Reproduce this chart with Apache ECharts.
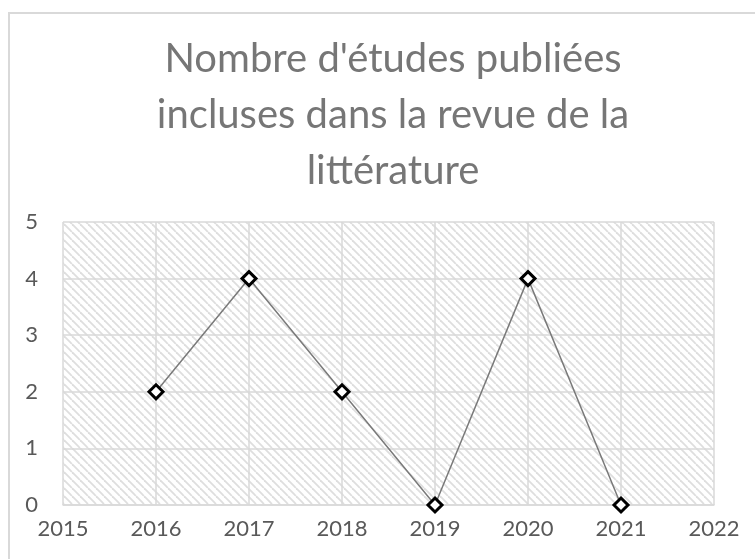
<!DOCTYPE html>
<html><head><meta charset="utf-8">
<script src="https://cdn.jsdelivr.net/npm/echarts@6/dist/echarts.min.js"></script>
<style>html,body{margin:0;padding:0;background:#fff}#c{width:755px;height:559px}</style>
</head><body><div id="c"></div>
<script>
const titleText = "Nombre d'études publiées\nincluses dans la revue de la\nlittérature";
const years = [2016, 2017, 2018, 2019, 2020, 2021];
const studies = [2, 4, 2, 0, 4, 0];
const xTicks = [2015, 2016, 2017, 2018, 2019, 2020, 2021, 2022];
const yTicks = [0, 1, 2, 3, 4, 5];

const tile = document.createElement('canvas');
tile.width = 8; tile.height = 8;
const g = tile.getContext('2d');
g.fillStyle = '#ffffff'; g.fillRect(0, 0, 8, 8);
g.strokeStyle = '#dedede'; g.lineWidth = 1.8;
[-8, 0, 8].forEach(ox => {
  g.beginPath(); g.moveTo(ox, 0); g.lineTo(ox + 8, 8); g.stroke();
});

const chart = echarts.init(document.getElementById('c'), null, {renderer: 'canvas'});
chart.setOption({
  backgroundColor: '#ffffff',
  animation: false,
  title: {
    text: titleText, left: 388, top: 26, textAlign: 'center',
    textStyle: {fontFamily: 'Lato', fontSize: 40, fontWeight: 'normal', color: '#767676', lineHeight: 56, align: 'center'}
  },
  graphic: [{
    type: 'rect', shape: {x: 9, y: 13, width: 800, height: 600},
    style: {fill: 'none', stroke: '#d9d9d9', lineWidth: 2}, silent: true, z: -1
  }],
  grid: {
    left: 63, right: 41, top: 222, bottom: 54, show: true,
    backgroundColor: {image: tile, repeat: 'repeat'}, borderWidth: 0
  },
  xAxis: {
    type: 'value', min: xTicks[0], max: xTicks[xTicks.length - 1], interval: 1,
    axisLine: {show: true, lineStyle: {color: '#d9d9d9', width: 1.5}},
    axisTick: {show: false},
    splitLine: {show: true, lineStyle: {color: '#d9d9d9', width: 1.5}},
    axisLabel: {color: '#595959', fontFamily: 'Lato', fontSize: 22, margin: 13,
      formatter: v => String(v), showMinLabel: true, showMaxLabel: true}
  },
  yAxis: {
    type: 'value', min: yTicks[0], max: yTicks[yTicks.length - 1], interval: 1,
    axisLine: {show: false}, axisTick: {show: false},
    splitLine: {show: true, lineStyle: {color: '#d9d9d9', width: 1.5}},
    axisLabel: {color: '#595959', fontFamily: 'Lato', fontSize: 22, margin: 25}
  },
  series: [{
    type: 'line',
    data: years.map((y, i) => [y, studies[i]]),
    lineStyle: {color: '#7a7a7a', width: 1.5},
    symbol: 'diamond', symbolSize: 14, showAllSymbol: true,
    itemStyle: {color: '#ffffff', borderColor: '#000000', borderWidth: 3}
  }]
});
</script></body></html>
